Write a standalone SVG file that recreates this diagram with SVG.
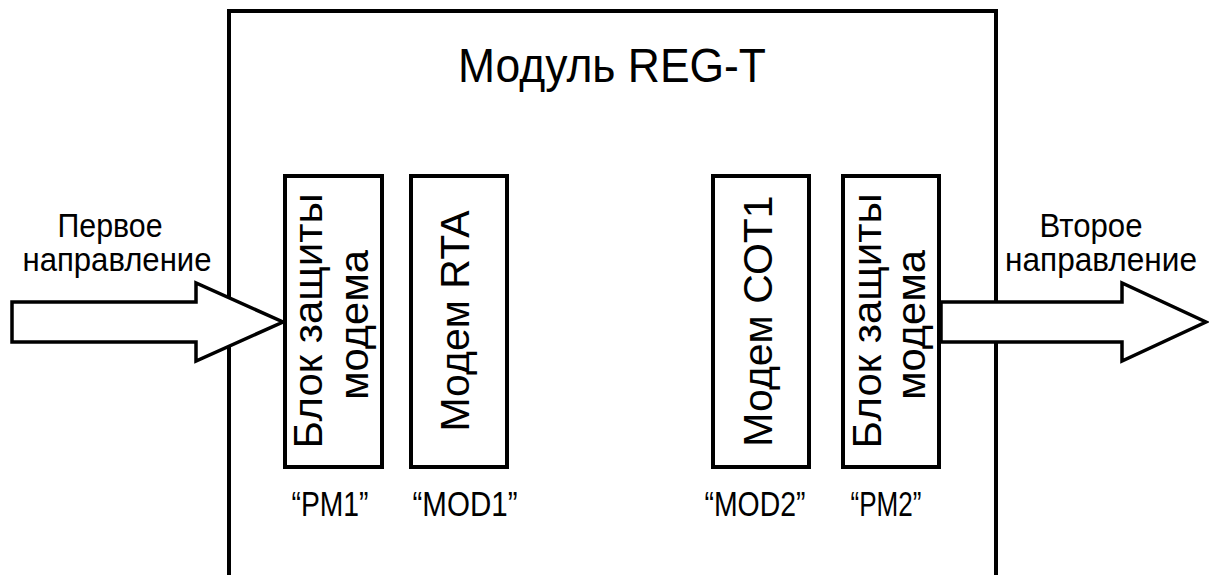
<svg xmlns="http://www.w3.org/2000/svg" width="1209" height="575" viewBox="0 0 1209 575">
<style>
.box{fill:#fff;stroke:#000;stroke-width:4}
.frame{fill:none;stroke:#000;stroke-width:4}
.arrow{fill:#fff;stroke:#000;stroke-width:3.5;stroke-linejoin:miter}
text{font-family:"Liberation Sans",Arial,sans-serif;fill:#000}
.big{font-size:48px}
.side{font-size:33px}
.vert{font-size:41px}
.lbl{font-size:35px}
</style>
<rect width="1209" height="575" fill="#fff"/>
<g id="module">
<path class="frame" d="M229,580 V11 H996 V580"/>
<text class="big" x="612" y="82" text-anchor="middle" textLength="308" lengthAdjust="spacingAndGlyphs">Модуль REG-T</text>
</g>
<g id="connectors">
<polygon class="arrow" points="12,302 196,302 196,283 283,322 196,361 196,342 12,342"/>
<polygon class="arrow" points="941,302 1122,302 1122,283 1206,322 1122,361 1122,342 941,342"/>
</g>
<g id="dir1">
<text class="side" x="110" y="237" text-anchor="middle" textLength="105" lengthAdjust="spacingAndGlyphs">Первое</text>
<text class="side" x="117" y="271" text-anchor="middle" textLength="189" lengthAdjust="spacingAndGlyphs">направление</text>
</g>
<g id="dir2">
<text class="side" x="1091" y="237" text-anchor="middle" textLength="103" lengthAdjust="spacingAndGlyphs">Второе</text>
<text class="side" x="1101" y="271" text-anchor="middle" textLength="192" lengthAdjust="spacingAndGlyphs">направление</text>
</g>
<g id="pm1">
<rect class="box" x="285" y="176" width="97" height="291"/>
<text class="vert" transform="translate(322,321) rotate(-90)" text-anchor="middle" textLength="255" lengthAdjust="spacingAndGlyphs">Блок защиты</text>
<text class="vert" transform="translate(368,325) rotate(-90)" text-anchor="middle" textLength="150" lengthAdjust="spacingAndGlyphs">модема</text>
<text class="lbl" x="330" y="516" text-anchor="middle" textLength="77" lengthAdjust="spacingAndGlyphs">“PM1”</text>
</g>
<g id="mod1">
<rect class="box" x="411" y="176" width="96" height="291"/>
<text class="vert" transform="translate(469,321) rotate(-90)" text-anchor="middle">Модем RTA</text>
<text class="lbl" x="465" y="516" text-anchor="middle" textLength="105" lengthAdjust="spacingAndGlyphs">“MOD1”</text>
</g>
<g id="mod2">
<rect class="box" x="713" y="176" width="96" height="291"/>
<text class="vert" transform="translate(772,321) rotate(-90)" text-anchor="middle">Модем СОТ1</text>
<text class="lbl" x="755" y="516" text-anchor="middle" textLength="101" lengthAdjust="spacingAndGlyphs">“MOD2”</text>
</g>
<g id="pm2">
<rect class="box" x="843" y="176" width="96" height="291"/>
<text class="vert" transform="translate(881,321) rotate(-90)" text-anchor="middle" textLength="255" lengthAdjust="spacingAndGlyphs">Блок защиты</text>
<text class="vert" transform="translate(925,325) rotate(-90)" text-anchor="middle" textLength="150" lengthAdjust="spacingAndGlyphs">модема</text>
<text class="lbl" x="886" y="516" text-anchor="middle" textLength="71" lengthAdjust="spacingAndGlyphs">“PM2”</text>
</g>
</svg>
